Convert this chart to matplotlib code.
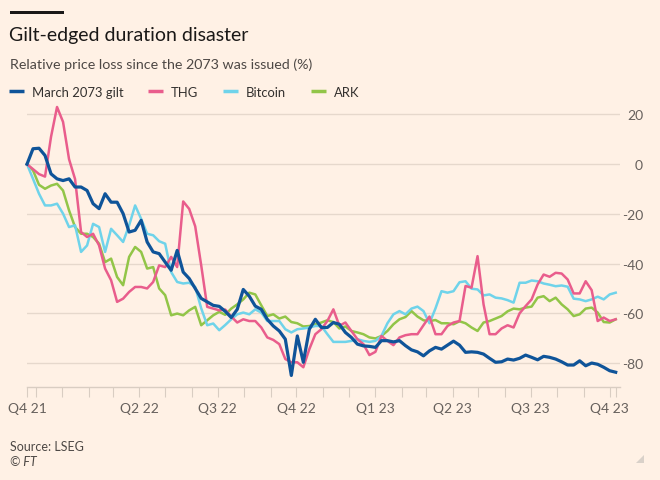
import matplotlib
matplotlib.use("Agg")
import matplotlib.pyplot as plt
import pandas as pd
from matplotlib.patches import Rectangle, Polygon
from matplotlib.lines import Line2D

# ---------------- data ----------------
dates = pd.date_range("2021-11-21", periods=99, freq="7D")

gilt = [0, 6.2, 6.4, 3.5, -3.9, -5.9, -6.6, -5.9, -9.2, -9.2,
        -10.6, -15.9, -17.9, -11.9, -15.3, -15.3, -19.9, -27.3, -26.6, -22.6,
        -31.3, -35.3, -36, -39.4, -42.7, -34.7, -43.4, -46, -50, -54,
        -55.4, -56.8, -57.2, -59.2, -61.7, -58.4, -50.4, -53.1, -57.1, -58.4,
        -62.4, -65.1, -67.1, -70.4, -85, -69.1, -79.7, -66.4, -62.4, -65.7,
        -65.7, -63.7, -64.4, -67.7, -69.7, -72.4, -73.1, -73.3, -73.7, -71,
        -71, -71.5, -71, -73, -74.7, -75.5, -77.1, -75.1, -73.7, -74.4,
        -72.8, -71.2, -72.8, -75.7, -75.5, -75.7, -76.4, -78.1, -79.7, -79.5,
        -78.4, -78.8, -78.1, -76.8, -77.7, -78.7, -77.3, -77.7, -78.4, -79.5,
        -80.8, -80.8, -79.1, -81.1, -80, -80.5, -81.7, -83.1, -83.7]

thg = [0, -2, -4, -5, 11, 23, 17, 2, -6, -27.3,
       -29.3, -28, -32.7, -42, -46.7, -55.4, -54.1, -51.4, -49.4, -49.4,
       -50, -47.4, -40.7, -41.4, -37.3, -41.4, -15, -18, -25, -40.7,
       -57.4, -58.1, -58.8, -58.5, -61.3, -63.7, -62.4, -63.1, -63.1, -65.7,
       -69.7, -70.7, -72.4, -78.4, -79.7, -79.7, -81.7, -74.4, -68.4, -66.4,
       -63.1, -58.4, -65, -63.7, -67.1, -70.4, -72.4, -76.8, -75.5, -69.1,
       -71.1, -72.8, -69.7, -68.8, -68.4, -68.4, -64.8, -61.3, -68.4, -68.4,
       -65.1, -63.7, -63.1, -49, -49.7, -37, -56.4, -68.4, -68.4, -66.1,
       -64.8, -65.7, -60, -57.1, -54.4, -48.4, -44.4, -45.3, -43.7, -44,
       -46.4, -52, -52, -47.1, -50.7, -63.1, -61.7, -63.1, -62.4]

bitcoin = [0, -5.9, -11.9, -16.6, -16.6, -15.9, -19.9, -25.3, -24.6, -35.3,
           -32.7, -24, -25.3, -35.3, -26, -28.6, -31.3, -24.6, -16.6, -22,
           -28, -28.6, -31, -32, -43.4, -47.4, -48, -47.7, -49.4, -58,
           -64.8, -64.1, -66.8, -64.7, -62.4, -60.4, -59.7, -60.4, -58.4, -59.7,
           -63.1, -63.1, -63.1, -66.4, -67.7, -66.4, -66.1, -65.7, -65.1, -65.1,
           -68.4, -71.5, -71.5, -71.5, -71.1, -70.4, -71.1, -71.5, -71.1, -69.1,
           -64, -60.4, -59.1, -60.4, -58.1, -57.3, -59.1, -64, -58, -51.1,
           -51.7, -51.1, -47.5, -47.1, -50.1, -50.4, -52.8, -52.4, -53.7, -54,
           -54.7, -55.7, -47.7, -47.7, -46.8, -47.1, -48, -48.5, -49.1, -48.8,
           -49.3, -54.1, -54.4, -55.1, -54.4, -53.3, -54.4, -52.4, -51.7]

ark = [0, -2.5, -8.3, -9.9, -8.6, -7.9, -10.6, -18.6, -25.3, -28,
       -28, -29.3, -32, -39.4, -38, -45.4, -48.7, -37.3, -33.3, -35.3,
       -42, -41.4, -50, -52.7, -60.8, -60.1, -60.8, -58.8, -57.4, -64.8,
       -62.8, -60.8, -59.4, -60.6, -58.1, -56.4, -54.4, -51.7, -52.4, -56.8,
       -61.1, -60.4, -62.1, -61.3, -63.5, -64, -65.3, -65.1, -64.4, -63.7,
       -62.8, -63.5, -66.1, -65.3, -67.1, -67.7, -68.4, -69.7, -70.1, -69.1,
       -67.1, -64.4, -62.4, -61.5, -59.1, -61.3, -62.8, -63.1, -62.7, -64,
       -64, -64.4, -63.2, -64, -65.7, -67.1, -63.7, -63.1, -62.1, -61.1,
       -59.2, -58.1, -58.4, -57.7, -57.3, -53.7, -53.1, -55.1, -53.7, -56.4,
       -58.4, -61.1, -60.4, -58.1, -57.7, -59.7, -63.5, -63.7, -62.4]

series_names = ["March 2073 gilt", "THG", "Bitcoin", "ARK"]
tick_dates = ["2021-11-21", "2022-04-01", "2022-07-01", "2022-10-01",
              "2023-01-01", "2023-04-01", "2023-07-01", "2023-10-01"]
tick_labels = ["Q4 21", "Q2 22", "Q3 22", "Q4 22", "Q1 23", "Q2 23", "Q3 23", "Q4 23"]
y_ticks = [20, 0, -20, -40, -60, -80]

title = "Gilt-edged duration disaster"
subtitle = "Relative price loss since the 2073 was issued (%)"
source = "Source: LSEG"

# ---------------- style ----------------
BG = "#fff1e5"
FONT = ["Lato", "DejaVu Sans"]
plt.rcParams["font.family"] = FONT
colors = {"March 2073 gilt": "#0f5499", "THG": "#e95d8c",
          "Bitcoin": "#6fd3ea", "ARK": "#92c548"}
widths = {"March 2073 gilt": 2.3, "THG": 1.8, "Bitcoin": 1.8, "ARK": 1.8}
W, H = 660, 481

fig = plt.figure(figsize=(W / 100, H / 100), dpi=100, facecolor=BG)

def fx(px):
    return px / W

def fy(py):
    return 1 - py / H

ax = fig.add_axes([fx(27), fy(388), fx(620) - fx(27), fy(105.5) - fy(388)])
ax.set_facecolor(BG)

values = {"March 2073 gilt": gilt, "THG": thg, "Bitcoin": bitcoin, "ARK": ark}
zorders = {"ARK": 3, "Bitcoin": 4, "THG": 5, "March 2073 gilt": 6}
for name in ["ARK", "Bitcoin", "THG", "March 2073 gilt"]:
    ax.plot(dates, values[name], color=colors[name], lw=widths[name],
            solid_joinstyle="round", zorder=zorders[name], clip_on=False)

ax.set_ylim(-89.64, 24)
ax.set_xlim(pd.Timestamp("2021-11-21"), pd.Timestamp("2023-10-13"))

for s in ["top", "left", "right"]:
    ax.spines[s].set_visible(False)
ax.spines["bottom"].set_color("#d9cdc2")
ax.spines["bottom"].set_linewidth(1)

ax.set_yticks(y_ticks)
ax.yaxis.tick_right()
ax.tick_params(axis="y", length=0, pad=16.6, labelsize=10, labelcolor="#66605c")
ax.set_yticklabels([str(v) for v in y_ticks])
for lab in ax.get_yticklabels():
    lab.set_horizontalalignment("right")
ax.grid(axis="y", color="#e6d8cc", lw=1)
ax.set_axisbelow(True)

ax.set_xticks(pd.to_datetime(tick_dates))
ax.set_xticklabels(tick_labels)
minor = list(pd.date_range("2021-12-01", "2023-09-01", freq="MS")) + [dates[-1]]
ax.set_xticks(minor, minor=True)
ax.tick_params(axis="x", which="both", length=7.5, width=0.8, color="#d9cdc2",
               direction="out")
ax.tick_params(axis="x", which="major", pad=3.5, labelsize=10, labelcolor="#66605c")

# header
fig.add_artist(Rectangle((fx(10), fy(15)), fx(64) - fx(10), fy(12) - fy(15),
                         transform=fig.transFigure, color="#1a1817", lw=0))
fig.text(fx(9), fy(41), title, fontsize=14, color="#1a1817", va="baseline")
fig.text(fx(10), fy(69), subtitle, fontsize=10.3, color="#4d4845", va="baseline")

# legend
leg_x = {"March 2073 gilt": 9, "THG": 148, "Bitcoin": 223, "ARK": 311}
for name in series_names:
    x0 = leg_x[name]
    fig.add_artist(Line2D([fx(x0), fx(x0 + 15)], [fy(92), fy(92)],
                          transform=fig.transFigure, color=colors[name],
                          lw=2.5, solid_capstyle="butt"))
    fig.text(fx(x0 + 23), fy(97), name, fontsize=9.4, color="#33302e",
             va="baseline")

# footer
fig.text(fx(10), fy(451), source, fontsize=9, color="#4d4845", va="baseline")
fig.text(fx(10), fy(466), "\u00a9 FT", fontsize=9, color="#4d4845",
         va="baseline", style="italic")
fig.add_artist(Polygon([(fx(644), fy(456)), (fx(644), fy(464)), (fx(636), fy(464))],
                       closed=True, transform=fig.transFigure,
                       color="#d9d1c9", lw=0))

fig.savefig("out.png", dpi=100, facecolor=BG)
